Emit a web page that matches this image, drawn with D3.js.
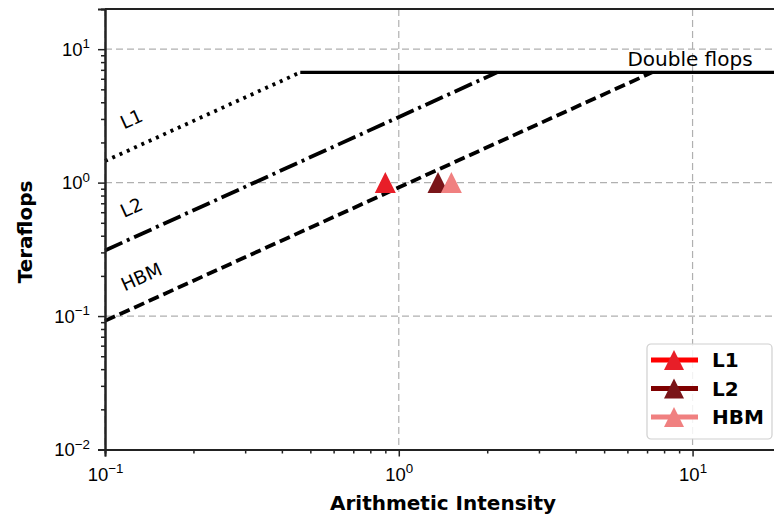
<!DOCTYPE html>
<html>
<head>
<meta charset="utf-8">
<script src="https://cdn.jsdelivr.net/npm/d3@7"></script>
<style>
  html, body { margin: 0; padding: 0; background: #fff; }
  svg { display: block; font-family: "DejaVu Sans", sans-serif; }
</style>
</head>
<body>
<svg id="chart" width="774" height="521"></svg>
<script>
// Roofline data (log-log): intensity in flops/byte, performance in Teraflops
const intensityTicks = [0.1, 1, 10];
const flopTicks = [0.01, 0.1, 1, 10];
const intensityDomain = [0.1, 20];
const flopDomain = [0.01, 20];

const peakDouble = 6.7;                  // double-precision ceiling
const ceilingLabel = "Double flops";
const roofNames = ["L1", "L2", "HBM"];
const roofBandwidth = [14.5, 3.1, 0.92];  // TB/s for each memory level
const roofLabelX = [0.123, 0.123, 0.133];
const roofLabelY = [3.0, 0.65, 0.197];

const pointNames = ["L1", "L2", "HBM"];
const pointIntensity = [0.90, 1.36, 1.51];
const pointFlops = [1.0, 1.0, 1.0];

// styling
const roofDash = ["3,5", "19,5,3,5", "11,5"];
const lineColors = ["#ff0000", "#7f0000", "#f08080"];
const markerColors = ["#e81e28", "#7a1519", "#f08080"];

const svg = d3.select("#chart");
const margin = { left: 105, top: 9, bottom: 449.5 };
const plotRight = 781;

const x = d3.scaleLog().domain(intensityDomain).range([margin.left, plotRight]);
const y = d3.scaleLog().domain(flopDomain).range([margin.bottom, margin.top]);

function minorTicks(domain) {
  const out = [];
  for (let e = -3; e <= 3; e++) {
    for (let m = 2; m <= 9; m++) {
      const v = m * Math.pow(10, e);
      if (v > domain[0] && v < domain[1]) out.push(v);
    }
  }
  return out;
}

// grid
const grid = svg.append("g").attr("stroke", "#b0b0b0").attr("stroke-width", 1.2)
  .attr("stroke-dasharray", "7,4");
grid.selectAll("line.v").data(intensityTicks).enter().append("line")
  .attr("x1", d => x(d)).attr("x2", d => x(d))
  .attr("y1", margin.top).attr("y2", margin.bottom);
grid.selectAll("line.h").data(flopTicks).enter().append("line")
  .attr("x1", margin.left).attr("x2", plotRight)
  .attr("y1", d => y(d)).attr("y2", d => y(d));

// memory roofs
const roofs = roofNames.map((name, i) => ({
  name, bw: roofBandwidth[i],
  pts: [[intensityDomain[0], roofBandwidth[i] * intensityDomain[0]],
        [peakDouble / roofBandwidth[i], peakDouble]]
}));
const line = d3.line().x(d => x(d[0])).y(d => y(d[1]));
svg.append("g").selectAll("path").data(roofs).enter().append("path")
  .attr("d", d => line(d.pts))
  .attr("fill", "none").attr("stroke", "#000").attr("stroke-width", 3.8)
  .attr("stroke-dasharray", (d, i) => roofDash[i]);

// compute ceiling
svg.append("path")
  .attr("d", line([[peakDouble / roofBandwidth[0], peakDouble], [intensityDomain[1], peakDouble]]))
  .attr("fill", "none").attr("stroke", "#000").attr("stroke-width", 3.4);

svg.append("text").attr("x", x(6.0)).attr("y", y(peakDouble) - 6)
  .attr("font-size", 20).attr("fill", "#000").text(ceilingLabel);

// roof labels, rotated along the slope
const angle = -Math.atan((y(1) - y(10)) / (x(10) - x(1))) * 180 / Math.PI;
svg.append("g").selectAll("text").data(roofNames).enter().append("text")
  .attr("transform", (d, i) => `translate(${x(roofLabelX[i])},${y(roofLabelY[i])}) rotate(${angle})`)
  .attr("text-anchor", "middle").attr("dominant-baseline", "central")
  .attr("font-size", 18.5).text(d => d);

// measured points
const tri = s => `M0,${-s}L${-s},${s}L${s},${s}Z`;
svg.append("g").selectAll("path").data(pointNames).enter().append("path")
  .attr("d", tri(10.5))
  .attr("transform", (d, i) => `translate(${x(pointIntensity[i])},${y(pointFlops[i])})`)
  .attr("fill", (d, i) => markerColors[i]);

// axes
function powLabel(sel) {
  sel.each(function(d) {
    const t = d3.select(this);
    const e = Math.round(Math.log10(d));
    t.text(null);
    t.append("tspan").text("10");
    t.append("tspan").attr("dy", "-0.55em").attr("font-size", "0.72em")
      .text(e < 0 ? "\u2212" + (-e) : String(e));
  });
}

const xAxis = svg.append("g").attr("transform", `translate(0,${margin.bottom})`)
  .call(d3.axisBottom(x).tickValues(intensityTicks).tickSize(7).tickPadding(8).tickFormat(""));
xAxis.append("g").call(d3.axisBottom(x).tickValues(minorTicks(intensityDomain)).tickSize(4).tickFormat(""));
xAxis.selectAll(".tick text").remove();
xAxis.selectAll(".tick").filter(d => intensityTicks.includes(d)).append("text")
  .attr("y", 31).attr("text-anchor", "middle").attr("fill", "#000").attr("font-size", 18.5)
  .call(powLabel);

const yAxis = svg.append("g").attr("transform", `translate(${margin.left},0)`)
  .call(d3.axisLeft(y).tickValues(flopTicks).tickSize(7).tickFormat(""));
yAxis.append("g").call(d3.axisLeft(y).tickValues(minorTicks(flopDomain)).tickSize(4).tickFormat(""));
yAxis.selectAll(".tick text").remove();
yAxis.selectAll(".tick").filter(d => flopTicks.includes(d)).append("text")
  .attr("x", -15).attr("y", 6).attr("text-anchor", "end").attr("fill", "#000").attr("font-size", 18.5)
  .call(powLabel);

[xAxis, yAxis].forEach(g => {
  g.selectAll("path.domain").attr("stroke", "#222").attr("stroke-width", 2);
  g.selectAll(".tick line").attr("stroke", "#222").attr("stroke-width", 1.5);
});

// top spine
svg.append("line").attr("x1", margin.left).attr("x2", plotRight)
  .attr("y1", margin.top).attr("y2", margin.top).attr("stroke", "#222").attr("stroke-width", 2);

// axis titles
svg.append("text").attr("x", 443).attr("y", 510)
  .attr("text-anchor", "middle").attr("font-weight", "bold").attr("font-size", 20)
  .text("Arithmetic Intensity");
svg.append("text").attr("transform", `translate(32,232) rotate(-90)`)
  .attr("text-anchor", "middle").attr("font-weight", "bold").attr("font-size", 20)
  .text("Teraflops");

// legend
const lg = svg.append("g").attr("transform", "translate(647,344)");
lg.append("rect").attr("width", 125).attr("height", 95).attr("rx", 4)
  .attr("fill", "#fff").attr("fill-opacity", 0.85).attr("stroke", "#d0d0d0").attr("stroke-width", 1.2);
const items = lg.selectAll("g.item").data(pointNames).enter().append("g")
  .attr("transform", (d, i) => `translate(0,${16 + i * 28.5})`);
items.append("line").attr("x1", 4).attr("x2", 51).attr("y1", 0).attr("y2", 0)
  .attr("stroke", (d, i) => lineColors[i]).attr("stroke-width", 5);
items.append("path").attr("d", tri(10)).attr("transform", "translate(27,0)")
  .attr("fill", (d, i) => markerColors[i]);
items.append("text").attr("x", 65).attr("y", 7).attr("font-weight", "bold").attr("font-size", 20)
  .text(d => d);
</script>
</body>
</html>
